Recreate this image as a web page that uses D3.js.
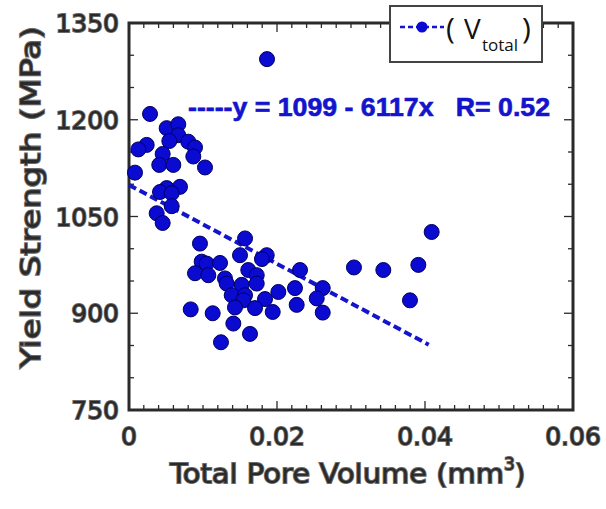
<!DOCTYPE html>
<html><head><meta charset="utf-8">
<script src="https://cdn.jsdelivr.net/npm/d3@7"></script>
<style>body{margin:0;background:#fff}svg{display:block}</style>
</head><body>
<svg id="c" width="606" height="509"></svg>
<script>
// ---- data ----
const poreVolume = [
  0.00284,0.00509,0.00666,0.00666,0.00545,0.00239,0.00126,0.00801,0.00892,0.00869,
  0.00455,0.00409,0.00599,0.01027,0.00081,0.00689,0.00509,0.00419,0.00577,0.00577,
  0.00374,0.00455,
  0.00959,0.01568,0.01500,0.01861,0.01797,0.00982,0.01050,0.01230,0.00892,0.01072,
  0.01612,0.01726,0.01297,0.01320,0.01523,0.01726,0.02018,0.02243,0.01388,0.01568,
  0.01545,0.01838,0.02266,0.00834,0.01131,0.01432,0.01703,0.01942,0.01410,0.01635,
  0.01243,
  0.02311,0.02618,0.02537,0.02618,0.03040,0.03437,0.03910,0.04090,0.03797,0.01865
];
const yieldStrength = [
  1209,1187,1193,1176,1167,1161,1154,1166,1157,1143,
  1147,1130,1130,1126,1118,1096,1094,1088,1086,1066,
  1055,1040,
  1008,1016,990,990,984,980,977,978,962,959,
  967,959,954,946,944,946,933,939,928,928,
  920,922,913,906,900,909,908,902,884,868,
  855,
  967,939,923,901,971,967,975,1026,920,1294
];
const xTicks = [0, 0.02, 0.04, 0.06];
const xTickLabels = ["0", "0.02", "0.04", "0.06"];
const yTicks = [750, 900, 1050, 1200, 1350];
const fitIntercept = 1099, fitSlope = -6117, fitXMax = 0.0405;
const fitLabel = "-----y = 1099 - 6117x   R= 0.52";

// ---- layout ----
const svg = d3.select("#c");
const L = 129, R = 573, T = 23, B = 410;
const x = d3.scaleLinear().domain([0, 0.06]).range([L, R]);
const y = d3.scaleLinear().domain([750, 1350]).range([B, T]);
const axisCol = "#2a2a2a";
const textStyle = s => s.attr("fill", "#2a2a2a").attr("stroke", "#6a6a6a")
  .attr("stroke-width", 1.8).attr("paint-order", "stroke")
  .attr("font-family", "DejaVu Sans, sans-serif");

// ticks (inward, mirrored on all sides)
const g = svg.append("g");
const xMinor = d3.range(0, 0.0601, 0.002);
const yMinor = d3.range(750, 1351, 50);
const isMajorX = v => xTicks.some(t => Math.abs(t - v) < 1e-6);
const isMajorY = v => yTicks.some(t => Math.abs(t - v) < 1e-6);
xMinor.forEach(v => {
  const len = isMajorX(v) ? 9 : 5;
  g.append("line").attr("x1", x(v)).attr("x2", x(v)).attr("y1", B).attr("y2", B - len)
    .attr("stroke", axisCol).attr("stroke-width", 1.3);
  g.append("line").attr("x1", x(v)).attr("x2", x(v)).attr("y1", T).attr("y2", T + len)
    .attr("stroke", axisCol).attr("stroke-width", 1.3);
});
yMinor.forEach(v => {
  const len = isMajorY(v) ? 9 : 5;
  g.append("line").attr("y1", y(v)).attr("y2", y(v)).attr("x1", L).attr("x2", L + len)
    .attr("stroke", axisCol).attr("stroke-width", 1.3);
  g.append("line").attr("y1", y(v)).attr("y2", y(v)).attr("x1", R).attr("x2", R - len)
    .attr("stroke", axisCol).attr("stroke-width", 1.3);
});
svg.append("rect").attr("x", L).attr("y", T).attr("width", R - L).attr("height", B - T)
  .attr("fill", "none").attr("stroke", axisCol).attr("stroke-width", 3);

// tick labels
svg.selectAll(".xl").data(xTicks).join("text")
  .attr("x", d => x(d)).attr("y", 445).attr("text-anchor", "middle")
  .attr("font-size", 25).text((d, i) => xTickLabels[i]).call(textStyle);
svg.selectAll(".yl").data(yTicks).join("text")
  .attr("x", 119).attr("y", d => y(d) + 9).attr("text-anchor", "end")
  .attr("font-size", 25).text(d => d).call(textStyle);

// axis titles
const xt = svg.append("text").attr("x", 170).attr("y", 483)
  .attr("font-size", 27).call(textStyle);
xt.append("tspan").attr("textLength", 334).attr("lengthAdjust", "spacingAndGlyphs")
  .text("Total Pore Volume (mm");
xt.append("tspan").attr("font-size", 17).attr("dy", -13).text("3");
xt.append("tspan").attr("dy", 13).text(")");
svg.append("text").attr("transform", "translate(40,197) rotate(-90)")
  .attr("text-anchor", "middle").attr("font-size", 27)
  .attr("textLength", 342).attr("lengthAdjust", "spacingAndGlyphs")
  .text("Yield Strength (MPa)").call(textStyle);

// fit line
const blue = "#1414cc";
svg.append("line")
  .attr("x1", x(0)).attr("y1", y(fitIntercept))
  .attr("x2", x(fitXMax)).attr("y2", y(fitIntercept + fitSlope * fitXMax))
  .attr("stroke", blue).attr("stroke-width", 4).attr("stroke-dasharray", "8,4");

// points
svg.append("g").selectAll("circle").data(poreVolume).join("circle")
  .attr("cx", d => x(d)).attr("cy", (d, i) => y(yieldStrength[i])).attr("r", 7.5)
  .attr("fill", "#0a0ad0").attr("stroke", "#000060").attr("stroke-width", 1);

// equation
svg.append("text").attr("x", 188).attr("y", 116).attr("font-size", 25)
  .attr("font-weight", "bold").attr("font-family", "Liberation Sans, Arial, sans-serif")
  .attr("fill", blue).attr("stroke", blue).attr("stroke-width", 0.6)
  .attr("textLength", 362).attr("lengthAdjust", "spacingAndGlyphs")
  .attr("xml:space", "preserve").style("white-space", "pre").text(fitLabel);

// legend
const lg = svg.append("g");
lg.append("rect").attr("x", 390).attr("y", 6).attr("width", 152).attr("height", 56)
  .attr("fill", "#fff").attr("stroke", "#444").attr("stroke-width", 2);
lg.append("line").attr("x1", 400).attr("x2", 444).attr("y1", 27).attr("y2", 27)
  .attr("stroke", blue).attr("stroke-width", 2.5).attr("stroke-dasharray", "5,3");
lg.append("circle").attr("cx", 422).attr("cy", 27).attr("r", 5.5).attr("fill", "#0a0ad0");
const lf = "Open Sans, DejaVu Sans, sans-serif";
lg.append("text").attr("x", 446).attr("y", 39).attr("font-size", 30)
  .attr("font-family", lf).attr("fill", "#111").text("(");
lg.append("text").attr("x", 464).attr("y", 39).attr("font-size", 28)
  .attr("font-family", lf).attr("fill", "#111").text("V");
lg.append("text").attr("x", 482).attr("y", 51).attr("font-size", 17)
  .attr("font-family", lf).attr("fill", "#111").text("total");
lg.append("text").attr("x", 522).attr("y", 39).attr("font-size", 30)
  .attr("font-family", lf).attr("fill", "#111").text(")");
</script>
</body></html>
